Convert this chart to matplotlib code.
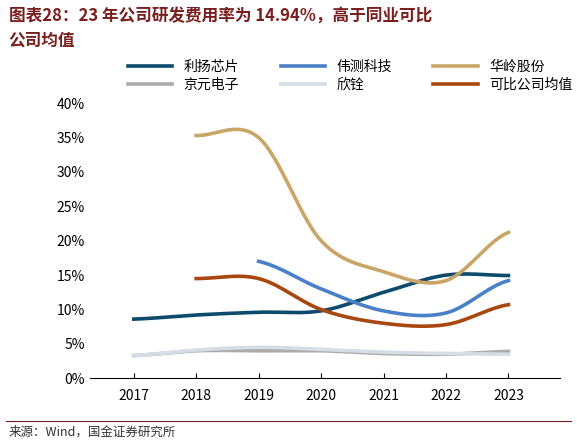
import numpy as np
import matplotlib
matplotlib.use("Agg")
import matplotlib.pyplot as plt

plt.rcParams['font.family'] = ['Noto Sans CJK SC', 'DejaVu Sans']

years = [2017, 2018, 2019, 2020, 2021, 2022, 2023]
liyang = [8.6, 9.2, 9.6, 9.8, 12.5, 15.0, 14.94]
weice = [None, None, 17.0, 13.0, 9.8, 9.5, 14.2]
hualing = [None, 35.3, 35.0, 20.0, 15.5, 14.2, 21.2]
jingyuan = [3.3, 4.0, 4.0, 4.0, 3.6, 3.5, 3.9]
xinquan = [3.3, 4.1, 4.5, 4.2, 3.8, 3.6, 3.5]
avg = [None, 14.5, 14.5, 10.0, 8.0, 7.8, 10.7]

series = [("利扬芯片", liyang, "#0d4a6b"), ("伟测科技", weice, "#4a80c8"),
          ("华岭股份", hualing, "#c9a667"), ("京元电子", jingyuan, "#ababab"),
          ("欣铨", xinquan, "#d6dde4"), ("可比公司均值", avg, "#a8470f")]

def smooth(x, y, n=30):
    x = np.asarray(x, float); y = np.asarray(y, float)
    m = np.zeros_like(y)
    for i in range(len(y)):
        a = max(i - 1, 0); b = min(i + 1, len(y) - 1)
        m[i] = (y[b] - y[a]) / (x[b] - x[a]) * (0.5 if 0 < i < len(y) - 1 else 0.0) * 2 if False else (y[b] - y[a]) / (x[b] - x[a])
    m[0] = 0.5 * (y[1] - y[0]) / (x[1] - x[0]); m[-1] = 0.5 * (y[-1] - y[-2]) / (x[-1] - x[-2])
    xs_all, ys_all = [], []
    for i in range(len(x) - 1):
        h = x[i+1] - x[i]
        t = np.linspace(0, 1, n)
        h00 = 2*t**3 - 3*t**2 + 1; h10 = t**3 - 2*t**2 + t
        h01 = -2*t**3 + 3*t**2; h11 = t**3 - t**2
        xs_all.append(x[i] + t*h)
        ys_all.append(h00*y[i] + h10*h*m[i] + h01*y[i+1] + h11*h*m[i+1])
    return np.concatenate(xs_all), np.concatenate(ys_all)

fig = plt.figure(figsize=(5.77, 4.45), dpi=100)
ax = fig.add_axes([0.156, 0.15, 0.815, 0.618])
handles = {}
for name, vals, c in series:
    xs = [yr for yr, v in zip(years, vals) if v is not None]
    ys = [v for v in vals if v is not None]
    sx, sy = smooth(xs, ys)
    handles[name], = ax.plot(sx, sy, color=c, lw=2.6, label=name)

ax.set_ylim(0, 40)
ax.set_yticks(range(0, 41, 5))
ax.set_yticklabels([f"{v}%" for v in range(0, 41, 5)])
ax.set_xlim(2016.3, 2023.83)
ax.set_xticks(years)
for s in ['top', 'right', 'left']:
    ax.spines[s].set_visible(False)
ax.tick_params(axis='y', length=0, labelsize=10)
ax.tick_params(axis='x', direction='in', labelsize=10, pad=8)

order = ["利扬芯片", "京元电子", "伟测科技", "欣铨", "华岭股份", "可比公司均值"]
fig.legend([handles[k] for k in order], order, loc='center left',
           bbox_to_anchor=(0.2, 0.83), ncol=3, frameon=False,
           fontsize=10, handlelength=3.2, columnspacing=3.0, labelspacing=0.3)

fig.text(0.015, 0.985, "图表28：23 年公司研发费用率为 14.94%，高于同业可比\n公司均值",
         ha='left', va='top', fontsize=12, fontweight='bold', style='italic',
         color='#7a1f1f', linespacing=1.5)
fig.text(0.015, 0.02, "来源：Wind，国金证券研究所", fontsize=9, color='#333333')
fig.add_artist(plt.Line2D([0.01, 0.99], [0.055, 0.055], color='#7a1f1f', lw=0.8))
fig.savefig("out.png", dpi=100)
